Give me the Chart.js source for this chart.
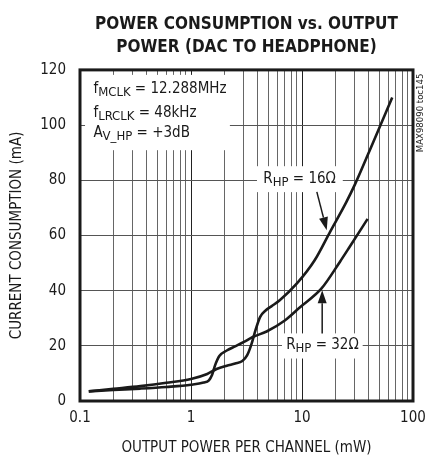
<!DOCTYPE html>
<html>
<head>
<script src="https://cdn.jsdelivr.net/npm/chart.js"></script>
<style>
  body { margin: 0; background: #fff; }
</style>
</head>
<body>
<canvas id="chart" width="425" height="463"></canvas>
<script>
const FONT = "'Liberation Sans Narrow', 'DejaVu Sans Condensed', sans-serif";
const INK = '#1a1a1a';

// curves (mW, mA)
const power16 = [0.12, 0.2, 0.35, 0.6, 1.0, 1.4, 1.7, 2.1, 2.5, 2.9, 3.2, 3.5, 3.8, 4.2, 4.7, 5.3, 6.3, 9, 13, 18, 25, 30, 44, 65];
const current16 = [3.5, 4.4, 5.4, 6.6, 8.0, 9.8, 11.6, 12.8, 13.6, 14.5, 16.5, 20.5, 25.5, 30.5, 32.8, 34.3, 36.5, 42.6, 51, 61.5, 72, 78.5, 94, 110];
const power32 = [0.12, 0.2, 0.35, 0.6, 1.0, 1.3, 1.45, 1.55, 1.65, 1.8, 2.1, 2.5, 3.0, 3.6, 4.8, 7.0, 9.6, 15, 22, 27, 39];
const current32 = [3.5, 4.0, 4.5, 5.1, 5.9, 6.7, 7.5, 9.5, 13, 16.3, 18.3, 19.8, 21.4, 23.2, 25.2, 29.2, 34, 40.8, 50.5, 56, 66];

const xTicks = [0.1, 0.2, 0.3, 0.4, 0.5, 0.6, 0.7, 0.8, 0.9, 1, 2, 3, 4, 5, 6, 7, 8, 9, 10, 20, 30, 40, 50, 60, 70, 80, 90, 100];
const xLabels = [0.1, 1, 10, 100];
const yMax = 120;
const yStep = 20;

function toPoints(xs, ys) {
    return xs.map((x, i) => ({ x: x, y: ys[i] }));
}

// text pieces: [string, isSubscript]
function drawParts(ctx, x, y, parts) {
    parts.forEach(p => {
        ctx.font = (p[1] ? '13px ' : '15px ') + FONT;
        ctx.fillText(p[0], x, p[1] ? y + 3 : y);
        x += ctx.measureText(p[0]).width;
    });
}

function arrow(ctx, x1, y1, x2, y2) {
    let a = Math.atan2(y2 - y1, x2 - x1);
    let len = 13, w = 4.5;
    let bx = x2 - len * Math.cos(a), by = y2 - len * Math.sin(a);
    ctx.beginPath();
    ctx.moveTo(x1, y1);
    ctx.lineTo(bx, by);
    ctx.lineWidth = 1.5;
    ctx.stroke();
    ctx.beginPath();
    ctx.moveTo(x2, y2);
    ctx.lineTo(bx + w * Math.sin(a), by - w * Math.cos(a));
    ctx.lineTo(bx - w * Math.sin(a), by + w * Math.cos(a));
    ctx.closePath();
    ctx.fill();
}

const overlay = {
    id: 'overlay',
    beforeDatasetsDraw(chart) {
        const ctx = chart.ctx, x = chart.scales.x, y = chart.scales.y;
        const box = (x0, x1, y0, y1) => {
            let l = x.getPixelForValue(x0), r = x.getPixelForValue(x1);
            let t = y.getPixelForValue(y0), b = y.getPixelForValue(y1);
            ctx.fillRect(l, t, r - l, b - t);
        };
        ctx.save();
        ctx.fillStyle = '#fff';
        box(0.111, 2.24, 118.2, 90.9);
        box(3.93, 23.3, 85.1, 75.7);
        box(6.6, 35.2, 24.5, 15.4);
        ctx.restore();
    },
    afterDatasetsDraw(chart) {
        const ctx = chart.ctx, x = chart.scales.x, y = chart.scales.y;
        const a = chart.chartArea;
        ctx.save();
        ctx.fillStyle = INK;
        ctx.strokeStyle = INK;
        ctx.textBaseline = 'alphabetic';
        ctx.textAlign = 'left';
        let lx = x.getPixelForValue(0.132);
        drawParts(ctx, lx, y.getPixelForValue(111.5), [['f', 0], ['MCLK', 1], [' = 12.288MHz', 0]]);
        drawParts(ctx, lx, y.getPixelForValue(103.0), [['f', 0], ['LRCLK', 1], [' = 48kHz', 0]]);
        drawParts(ctx, lx, y.getPixelForValue(95.7), [['A', 0], ['V_HP', 1], [' = +3dB', 0]]);
        drawParts(ctx, x.getPixelForValue(4.48), y.getPixelForValue(78.9), [['R', 0], ['HP', 1], [' = 16\u03A9', 0]]);
        drawParts(ctx, x.getPixelForValue(7.2), y.getPixelForValue(19.0), [['R', 0], ['HP', 1], [' = 32\u03A9', 0]]);

        arrow(ctx, x.getPixelForValue(13.6), y.getPixelForValue(75.8), x.getPixelForValue(16.7), y.getPixelForValue(61.9));
        arrow(ctx, x.getPixelForValue(15.2), y.getPixelForValue(24.5), x.getPixelForValue(15.2), y.getPixelForValue(40.1));

        // frame
        ctx.lineWidth = 3;
        ctx.strokeRect(a.left, a.top, a.right - a.left, a.bottom - a.top);

        // side reference
        ctx.translate(a.right + 8, a.top + 43);
        ctx.rotate(-Math.PI / 2);
        ctx.textAlign = 'center';
        ctx.textBaseline = 'middle';
        ctx.font = '9.5px ' + FONT;
        ctx.fillText('MAX98090 toc145', 0, 0);
        ctx.restore();
    }
};

new Chart(document.getElementById('chart'), {
    type: 'line',
    data: {
        datasets: [{
            label: 'RHP = 16',
            data: toPoints(power16, current16),
            borderColor: INK,
            borderWidth: 2.6,
            pointRadius: 0,
            cubicInterpolationMode: 'monotone',
            fill: false
        }, {
            label: 'RHP = 32',
            data: toPoints(power32, current32),
            borderColor: INK,
            borderWidth: 2.6,
            pointRadius: 0,
            cubicInterpolationMode: 'monotone',
            fill: false
        }]
    },
    options: {
        responsive: false,
        animation: false,
        layout: { padding: { left: 0, right: 12, top: 0, bottom: 0 } },
        plugins: {
            legend: { display: false },
            tooltip: { enabled: false },
            title: {
                display: true,
                fullSize: false,
                text: ['POWER CONSUMPTION vs. OUTPUT', 'POWER (DAC TO HEADPHONE)'],
                color: INK,
                font: { family: FONT, size: 17, weight: 'bold', lineHeight: 1.35 },
                padding: { top: 13, bottom: 11 }
            }
        },
        scales: {
            x: {
                type: 'logarithmic',
                min: 0.1,
                max: 100,
                afterBuildTicks: s => { s.ticks = xTicks.map(v => ({ value: v })); },
                afterFit: s => {
                    s.height = 62;
                    s.paddingLeft = 0;
                    s.paddingRight = 0;
                },
                ticks: {
                    autoSkip: false,
                    maxRotation: 0,
                    padding: 8,
                    color: INK,
                    font: { family: FONT, size: 15 },
                    callback: v => xLabels.includes(v) ? String(v) : ''
                },
                grid: {
                    drawTicks: false,
                    lineWidth: 1,
                    color: c => xLabels.includes(c.tick.value) ? '#222' : '#666'
                },
                border: { display: false },
                title: {
                    display: true,
                    text: 'OUTPUT POWER PER CHANNEL (mW)',
                    color: INK,
                    font: { family: FONT, size: 15 },
                    padding: { top: 4, bottom: 6 }
                }
            },
            y: {
                min: 0,
                max: yMax,
                afterFit: s => { s.width = 80; },
                ticks: {
                    stepSize: yStep,
                    padding: 14,
                    color: INK,
                    font: { family: FONT, size: 15 }
                },
                grid: { drawTicks: false, lineWidth: 1, color: '#555' },
                border: { display: false },
                title: {
                    display: true,
                    text: 'CURRENT CONSUMPTION (mA)',
                    color: INK,
                    font: { family: FONT, size: 15 },
                    padding: { top: 8, bottom: 8 }
                }
            }
        }
    },
    plugins: [overlay]
});
</script>
</body>
</html>
